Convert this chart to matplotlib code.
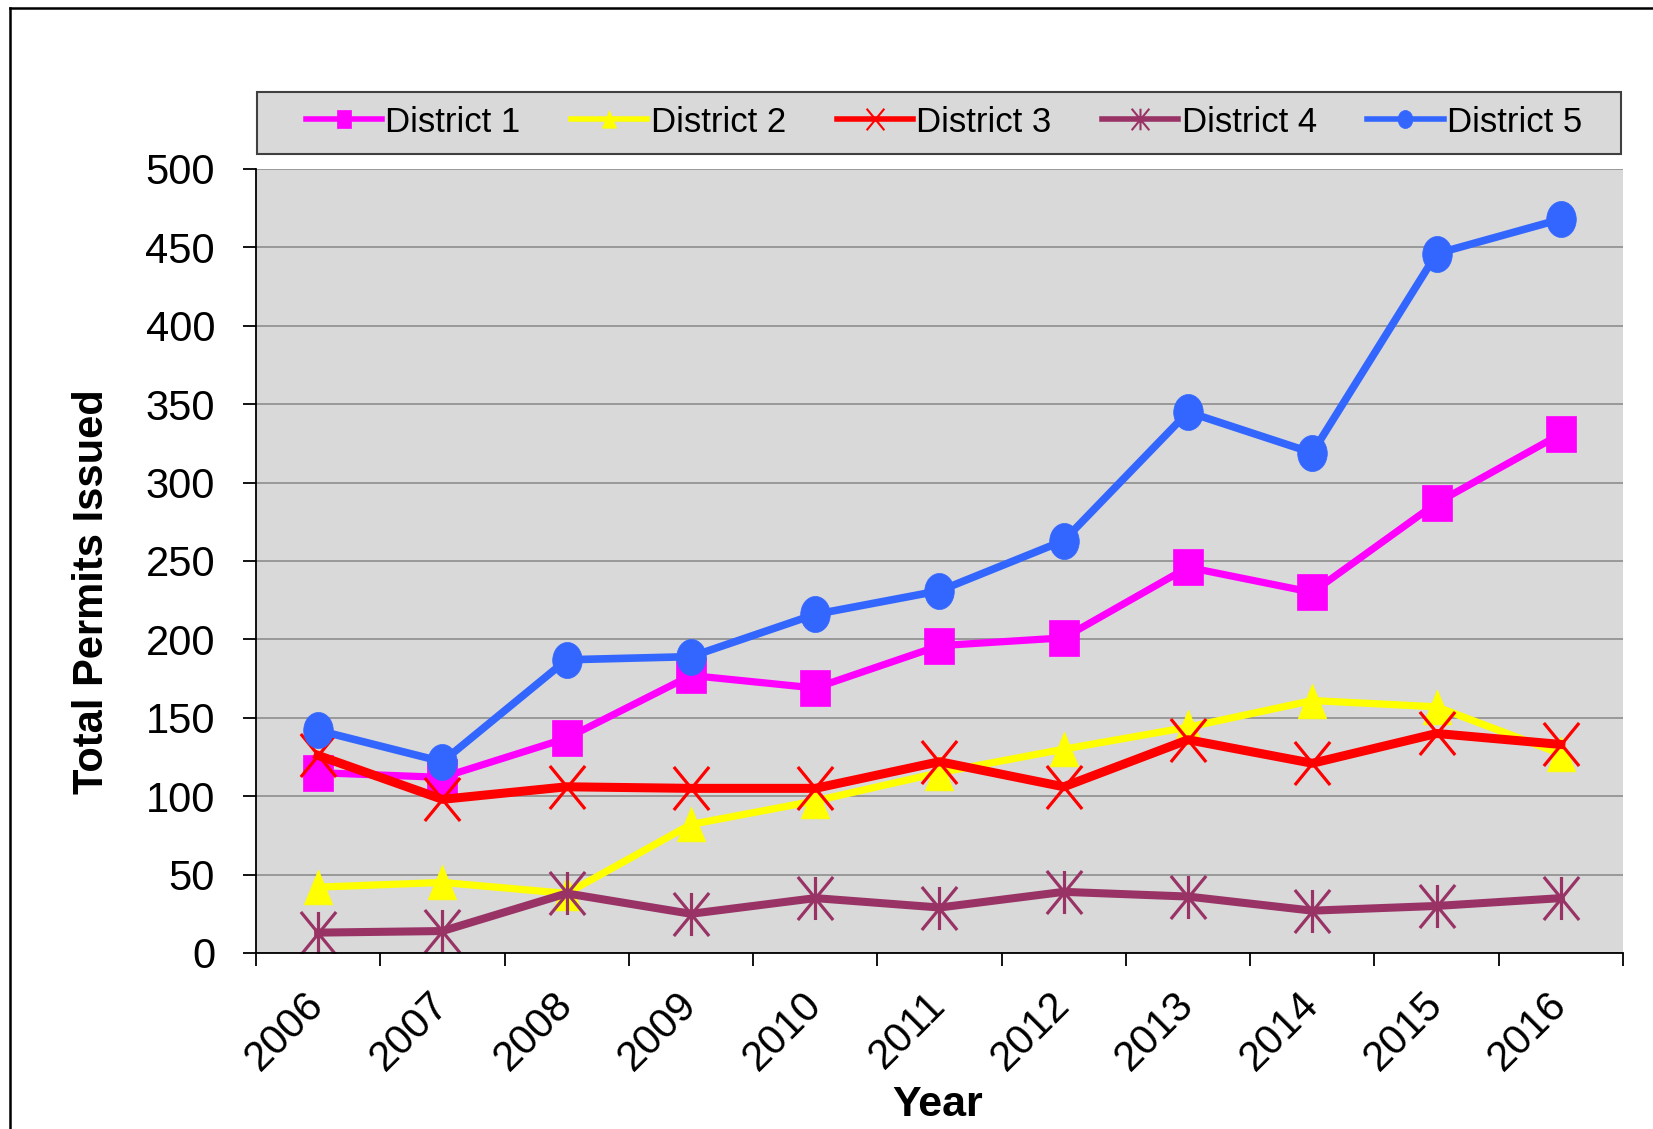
import matplotlib
matplotlib.use("Agg")
import matplotlib.pyplot as plt
from matplotlib.path import Path
from matplotlib.lines import Line2D
from matplotlib.patches import Rectangle
import numpy as np

plt.rcParams['font.family'] = ['Liberation Sans', 'DejaVu Sans']

years = ['2006', '2007', '2008', '2009', '2010', '2011', '2012', '2013', '2014', '2015', '2016']
district1 = [115, 112, 137, 177, 169, 196, 201, 246, 230, 287, 331]
district2 = [42, 45, 38, 82, 97, 115, 130, 144, 161, 157, 127]
district3 = [126, 98, 106, 105, 105, 122, 106, 136, 121, 140, 133]
district4 = [13, 14, 38, 25, 35, 29, 39, 36, 27, 30, 35]
district5 = [142, 122, 187, 189, 216, 231, 263, 345, 319, 446, 468]
series_names = ['District 1', 'District 2', 'District 3', 'District 4', 'District 5']
yticks = [0, 50, 100, 150, 200, 250, 300, 350, 400, 450, 500]

# slightly tall markers, as in the reference
k = 0.61
sq = Path([(-0.5, -k), (0.5, -k), (0.5, k), (-0.5, k), (-0.5, -k)],
          [Path.MOVETO, Path.LINETO, Path.LINETO, Path.LINETO, Path.CLOSEPOLY])
tri = Path([(0, k), (-0.5, -k), (0.5, -k), (0, k)],
           [Path.MOVETO, Path.LINETO, Path.LINETO, Path.CLOSEPOLY])
uc = Path.unit_circle()
circ = Path(uc.vertices * np.array([0.5, k]), uc.codes)
xm = Path([(-0.5, -k), (0.5, k), (-0.5, k), (0.5, -k)],
          [Path.MOVETO, Path.LINETO, Path.MOVETO, Path.LINETO])
ast = Path([(-0.5, -k), (0.5, k), (-0.5, k), (0.5, -k), (0, -k), (0, k)],
           [Path.MOVETO, Path.LINETO, Path.MOVETO, Path.LINETO, Path.MOVETO, Path.LINETO])

W, H = 1653, 1129
fig = plt.figure(figsize=(W / 100, H / 100), dpi=100)
ax = fig.add_axes([256 / W, 1 - 953 / H, (1623 - 256) / W, (953 - 169) / H])
ax.set_facecolor('#d9d9d9')

x = np.arange(len(years))
styles = [
    dict(color='#ff00ff', marker=sq, ms=26, lw=5.2, mew=0.5),
    dict(color='#ffff00', marker=tri, ms=25, lw=5.2, mew=0.5),
    dict(color='#ff0000', marker=xm, ms=31, lw=6.5, mew=2.3, mfc='none'),
    dict(color='#993366', marker=ast, ms=31, lw=5.8, mew=2.3, mfc='none'),
    dict(color='#3366ff', marker=circ, ms=26, lw=5.5, mew=0.5),
]
data = [district1, district2, district3, district4, district5]
for name, vals, st in zip(series_names, data, styles):
    ax.plot(x, vals, label=name, **st)

ax.set_xlim(-0.5, len(years) - 0.5)
ax.set_ylim(0, 500)
ax.set_yticks(yticks)
ax.set_yticklabels([str(v) for v in yticks])
ax.yaxis.grid(True, color='#878787', lw=1.1)
ax.set_axisbelow(True)

ax.set_xticks(x)
ax.set_xticklabels(years, rotation=45, ha='right', va='center', rotation_mode='anchor')
ax.set_xticks(np.arange(-0.5, len(years), 1.0), minor=True)
ax.tick_params(axis='x', which='major', length=0, pad=33, labelsize=30)
ax.tick_params(axis='x', which='minor', length=9.5, width=1.3, direction='out', color='black')
ax.tick_params(axis='y', length=9.5, width=1.3, direction='out', pad=20, labelsize=30)

for s in ['top', 'right']:
    ax.spines[s].set_visible(False)
for s in ['left', 'bottom']:
    ax.spines[s].set_color('black')
    ax.spines[s].set_linewidth(1.3)

ax.set_ylabel('Total Permits Issued', fontsize=30, fontweight='bold')
ax.set_xlabel('Year', fontsize=31, fontweight='bold')
ax.yaxis.set_label_coords((112 - 256) / (1623 - 256), (953 - 592) / (953 - 169))
ax.xaxis.set_label_coords((937.5 - 256) / (1623 - 256), (953 - 1085) / (953 - 169))

# legend box
fig.patches.append(Rectangle((257 / W, 1 - 154 / H), (1621 - 257) / W, (154 - 92) / H,
                             transform=fig.transFigure, facecolor='#d9d9d9',
                             edgecolor='#404040', lw=1.5, zorder=0))
leg_handles = []
for st, name in zip(styles, series_names):
    st2 = dict(st)
    st2['ms'] = st['ms'] * 0.5
    st2['lw'] = 4.0
    st2['mew'] = min(st.get('mew', 1.0), 1.5)
    leg_handles.append(Line2D([], [], label=name, **st2))
leg = fig.legend(handles=leg_handles, loc='center', bbox_to_anchor=(944 / W, 1 - 122 / H),
                 ncol=5, frameon=False, fontsize=25, handlelength=2.2, handletextpad=0.1,
                 columnspacing=1.45, borderaxespad=0)

# figure border (left and top)
fig.add_artist(Line2D([9.5 / W, 9.5 / W], [0, 1 - 7.5 / H], transform=fig.transFigure,
                      color='black', lw=1.8))
fig.add_artist(Line2D([9.5 / W, 1], [1 - 7.5 / H, 1 - 7.5 / H], transform=fig.transFigure,
                      color='black', lw=1.8))

fig.savefig('out.png', dpi=100)
